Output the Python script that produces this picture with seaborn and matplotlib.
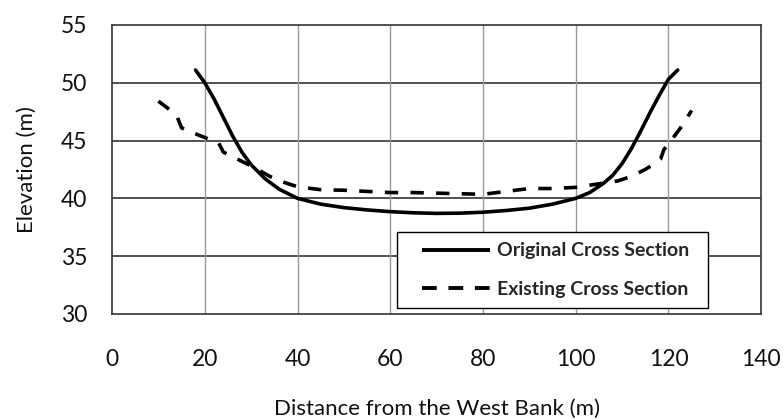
import matplotlib
matplotlib.use("Agg")
import matplotlib.pyplot as plt
import seaborn as sns
import pandas as pd
from matplotlib.lines import Line2D
from matplotlib.patches import Rectangle

orig_x = [18, 20, 22, 24, 26, 28, 30, 33, 36, 40, 45, 50, 55, 60, 65, 70, 75, 80, 85, 90, 95, 100, 103, 106, 108, 110, 112, 114, 116, 118, 120, 122]
orig_y = [51.1, 50.0, 48.6, 47.0, 45.4, 44.0, 42.9, 41.7, 40.8, 40.0, 39.5, 39.2, 39.0, 38.85, 38.75, 38.7, 38.72, 38.8, 38.95, 39.15, 39.5, 40.0, 40.5, 41.3, 42.0, 43.0, 44.3, 45.8, 47.4, 48.9, 50.3, 51.1]

exist_x = [10, 12, 14, 15, 16, 18.5, 21, 23, 24, 25, 28, 31, 34, 37, 40, 45, 50, 55, 60, 65, 70, 75, 80, 85, 90, 95, 100, 104, 109, 112, 115, 117, 118.3, 119, 121.5, 123, 125]
exist_y = [48.4, 47.8, 47.1, 46.1, 45.9, 45.5, 45.1, 44.8, 44.0, 43.8, 43.2, 42.6, 41.9, 41.4, 41.0, 40.75, 40.7, 40.6, 40.5, 40.5, 40.45, 40.4, 40.35, 40.6, 40.85, 40.85, 40.95, 41.2, 41.5, 41.9, 42.5, 43.0, 43.4, 44.2, 45.5, 46.3, 47.6]

labels = ["Original Cross Section", "Existing Cross Section"]

df = pd.concat([
    pd.DataFrame({"x": orig_x, "y": orig_y, "series": labels[0]}),
    pd.DataFrame({"x": exist_x, "y": exist_y, "series": labels[1]}),
])

sns.set_theme(style="white")
plt.rcParams["font.family"] = ["Lato", "DejaVu Sans"]

fig = plt.figure(figsize=(7.84, 4.19), dpi=100)
ax = fig.add_axes([0.1429, 0.2506, 0.828, 0.690])

sns.lineplot(data=df, x="x", y="y", hue="series", style="series",
             palette=["black", "black"], dashes=[(None, None), (3.7, 3.4)],
             sort=False, estimator=None, linewidth=2.6, ax=ax, legend=False)

ax.set_xlim(0, 140)
ax.set_ylim(30, 55)
ax.set_xticks(range(0, 141, 20))
ax.set_yticks(range(30, 56, 5))
for y in range(35, 55, 5):
    ax.axhline(y, color="#222222", lw=1.1, zorder=0)
for x in range(20, 140, 20):
    ax.axvline(x, color="#999999", lw=1.0, zorder=0)
for s in ax.spines.values():
    s.set_color("#333333")
    s.set_linewidth(1.2)
ax.tick_params(axis="x", pad=25, labelsize=16.5, length=0, colors="#111111")
ax.tick_params(axis="y", pad=18, labelsize=16.5, length=0, colors="#111111")
ax.set_xlabel("Distance from the West Bank (m)", fontsize=16, labelpad=21, color="#111111")
ax.set_ylabel("Elevation (m)", fontsize=16, labelpad=17, color="#111111")

# legend frame
ax.add_patch(Rectangle((0.439, 0.021), 0.479, 0.263, transform=ax.transAxes,
                       facecolor="white", edgecolor="black", lw=1.0, zorder=5))
handles = [Line2D([], [], color="black", lw=2.8, solid_capstyle="butt"),
           Line2D([], [], color="black", lw=2.8, dashes=(3.8, 3.0), dash_capstyle="butt")]
leg = ax.legend(handles, labels, loc="center left",
                bbox_to_anchor=(0.478, 0.152), borderaxespad=0, borderpad=0,
                frameon=False, fontsize=14, handlelength=3.5, handletextpad=0.35,
                labelspacing=1.1)
leg.set_zorder(6)
for t in leg.get_texts():
    t.set_fontweight("bold")

fig.savefig("out.png", dpi=100)
